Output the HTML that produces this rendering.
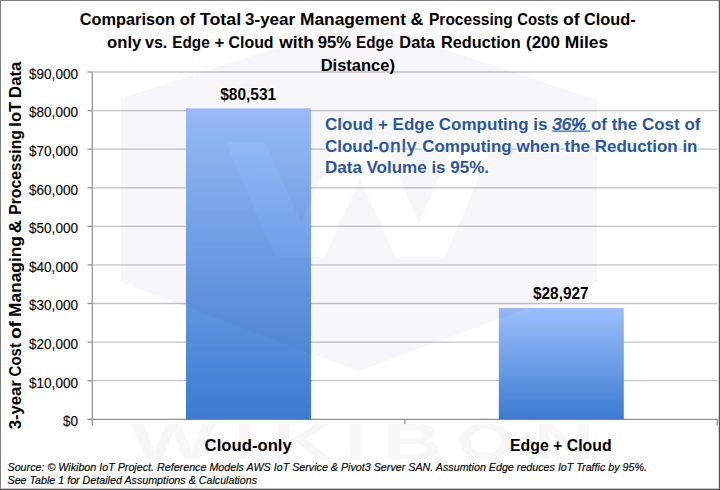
<!DOCTYPE html>
<html><head><meta charset="utf-8">
<style>
html,body{margin:0;padding:0;background:#fff;}
body{width:720px;height:490px;overflow:hidden;position:relative;}
svg{display:block;position:absolute;left:0;top:0;}
text{font-family:"Liberation Sans",sans-serif;}
</style></head>
<body>
<svg width="720" height="490" viewBox="0 0 720 490">
<defs>
<linearGradient id="g1" x1="0" y1="0" x2="0" y2="1">
<stop offset="0" stop-color="#9cbffb"/>
<stop offset="1" stop-color="#3c7bd1"/>
</linearGradient>
</defs>
<rect x="0" y="0" width="720" height="490" fill="#fff"/>

<!-- gridlines -->
<g stroke="#c4c4c4" stroke-width="1.3" fill="none">
<line x1="92" y1="72" x2="717.5" y2="72"/>
<line x1="92" y1="110.6" x2="717.5" y2="110.6"/>
<line x1="92" y1="149.2" x2="717.5" y2="149.2"/>
<line x1="92" y1="187.8" x2="717.5" y2="187.8"/>
<line x1="92" y1="226.4" x2="717.5" y2="226.4"/>
<line x1="92" y1="264.9" x2="717.5" y2="264.9"/>
<line x1="92" y1="303.5" x2="717.5" y2="303.5"/>
<line x1="92" y1="342.1" x2="717.5" y2="342.1"/>
<line x1="92" y1="380.7" x2="717.5" y2="380.7"/>
</g>
<!-- axes -->
<g stroke="#8e8e8e" stroke-width="1.2" fill="none">
<line x1="92.3" y1="72" x2="92.3" y2="425.5"/>
<line x1="87.5" y1="419.3" x2="717.5" y2="419.3"/>
<line x1="87.5" y1="72" x2="92.3" y2="72"/>
<line x1="87.5" y1="110.6" x2="92.3" y2="110.6"/>
<line x1="87.5" y1="149.2" x2="92.3" y2="149.2"/>
<line x1="87.5" y1="187.8" x2="92.3" y2="187.8"/>
<line x1="87.5" y1="226.4" x2="92.3" y2="226.4"/>
<line x1="87.5" y1="264.9" x2="92.3" y2="264.9"/>
<line x1="87.5" y1="303.5" x2="92.3" y2="303.5"/>
<line x1="87.5" y1="342.1" x2="92.3" y2="342.1"/>
<line x1="87.5" y1="380.7" x2="92.3" y2="380.7"/>
<line x1="404.9" y1="419.3" x2="404.9" y2="425.5"/>
<line x1="717.2" y1="419.3" x2="717.2" y2="425.5"/>
</g>

<!-- bars -->
<rect x="186" y="108.4" width="125" height="310.9" fill="url(#g1)"/>
<rect x="498.8" y="308" width="125" height="111.3" fill="url(#g1)"/>

<!-- watermark -->
<path fill="rgb(60,60,110)" fill-opacity="0.045" fill-rule="evenodd" d="M359,21 L597,100 L597,282.3 L358.5,371.3 L121,282.3 L121,98.5 Z M229,142 L262,142 Q265,142 266.5,145 L301,223 L335.5,145 Q337,142 340,142 L380,142 Q383,142 384.5,145 L419,223 L453.5,145 Q455,142 458,142 L491,142 Q494,142 493,145 L447,252 Q445,257 440,257 L400,257 Q395,257 393,252 L360,178 L327,252 Q325,257 320,257 L280,257 Q275,257 273,252 L227,145 Q226,142 229,142 Z"/>
<g fill="#f7f7f7" font-weight="bold" font-size="50.3">
<text x="130.60" y="459" textLength="85.30" lengthAdjust="spacingAndGlyphs">W</text>
<text x="233.80" y="459" textLength="22.23" lengthAdjust="spacingAndGlyphs">I</text>
<text x="272.60" y="459" textLength="60.00" lengthAdjust="spacingAndGlyphs">K</text>
<text x="344.80" y="459" textLength="22.23" lengthAdjust="spacingAndGlyphs">I</text>
<text x="382.61" y="459" textLength="59.89" lengthAdjust="spacingAndGlyphs">B</text>
<text x="457.03" y="459" textLength="57.78" lengthAdjust="spacingAndGlyphs">O</text>
<text x="533.49" y="459" textLength="61.20" lengthAdjust="spacingAndGlyphs">N</text>
</g>

<!-- title -->
<g font-weight="bold" font-size="17" fill="#000">
<text x="79.65" y="25" textLength="95.35" lengthAdjust="spacingAndGlyphs">Comparison</text>
<text x="179.82" y="25" textLength="15.54" lengthAdjust="spacingAndGlyphs">of</text>
<text x="199.82" y="25" textLength="41.39" lengthAdjust="spacingAndGlyphs">Total</text>
<text x="245.06" y="25" textLength="50.08" lengthAdjust="spacingAndGlyphs">3-year</text>
<text x="299.97" y="25" textLength="105.97" lengthAdjust="spacingAndGlyphs">Management</text>
<text x="410.54" y="25" textLength="12.84" lengthAdjust="spacingAndGlyphs">&amp;</text>
<text x="428.99" y="25" textLength="83.73" lengthAdjust="spacingAndGlyphs">Processing</text>
<text x="517.31" y="25" textLength="41.23" lengthAdjust="spacingAndGlyphs">Costs</text>
<text x="563.14" y="25" textLength="16.42" lengthAdjust="spacingAndGlyphs">of</text>
<text x="583.95" y="25" textLength="51.67" lengthAdjust="spacingAndGlyphs">Cloud-</text>
<text x="107.12" y="47.8" textLength="34.15" lengthAdjust="spacingAndGlyphs">only</text>
<text x="145.00" y="47.8" textLength="22.34" lengthAdjust="spacingAndGlyphs">vs.</text>
<text x="172.31" y="47.8" textLength="37.37" lengthAdjust="spacingAndGlyphs">Edge</text>
<text x="214.52" y="47.8" textLength="9.89" lengthAdjust="spacingAndGlyphs">+</text>
<text x="228.56" y="47.8" textLength="44.98" lengthAdjust="spacingAndGlyphs">Cloud</text>
<text x="279.29" y="47.8" textLength="34.67" lengthAdjust="spacingAndGlyphs">with</text>
<text x="317.80" y="47.8" textLength="33.40" lengthAdjust="spacingAndGlyphs">95%</text>
<text x="356.11" y="47.8" textLength="37.27" lengthAdjust="spacingAndGlyphs">Edge</text>
<text x="399.33" y="47.8" textLength="35.52" lengthAdjust="spacingAndGlyphs">Data</text>
<text x="441.04" y="47.8" textLength="79.55" lengthAdjust="spacingAndGlyphs">Reduction</text>
<text x="526.04" y="47.8" textLength="33.77" lengthAdjust="spacingAndGlyphs">(200</text>
<text x="564.67" y="47.8" textLength="43.46" lengthAdjust="spacingAndGlyphs">Miles</text>
<text x="320.63" y="70.8" textLength="74.37" lengthAdjust="spacingAndGlyphs">Distance)</text>
</g>

<!-- y tick labels -->
<g font-size="14.3" fill="#000" text-anchor="end" stroke="#000" stroke-width="0.1">
<text x="78" y="78.8" textLength="49" lengthAdjust="spacingAndGlyphs">$90,000</text>
<text x="78" y="117.4" textLength="49" lengthAdjust="spacingAndGlyphs">$80,000</text>
<text x="78" y="156.0" textLength="49" lengthAdjust="spacingAndGlyphs">$70,000</text>
<text x="78" y="194.6" textLength="49" lengthAdjust="spacingAndGlyphs">$60,000</text>
<text x="78" y="233.2" textLength="49" lengthAdjust="spacingAndGlyphs">$50,000</text>
<text x="78" y="271.7" textLength="49" lengthAdjust="spacingAndGlyphs">$40,000</text>
<text x="78" y="310.3" textLength="49" lengthAdjust="spacingAndGlyphs">$30,000</text>
<text x="78" y="348.9" textLength="49" lengthAdjust="spacingAndGlyphs">$20,000</text>
<text x="78" y="387.5" textLength="49" lengthAdjust="spacingAndGlyphs">$10,000</text>
<text x="78" y="426.1" textLength="15" lengthAdjust="spacingAndGlyphs">$0</text>
</g>

<!-- y axis title -->
<g font-weight="bold" font-size="16.5" fill="#000">
<text transform="translate(21.4,429.33) rotate(-90)" textLength="49.17" lengthAdjust="spacingAndGlyphs">3-year</text>
<text transform="translate(21.4,376.40) rotate(-90)" textLength="33.32" lengthAdjust="spacingAndGlyphs">Cost</text>
<text transform="translate(21.4,339.07) rotate(-90)" textLength="18.03" lengthAdjust="spacingAndGlyphs">of</text>
<text transform="translate(21.4,317.03) rotate(-90)" textLength="80.97" lengthAdjust="spacingAndGlyphs">Managing</text>
<text transform="translate(21.4,233.14) rotate(-90)" textLength="13.34" lengthAdjust="spacingAndGlyphs">&amp;</text>
<text transform="translate(21.4,214.72) rotate(-90)" textLength="84.55" lengthAdjust="spacingAndGlyphs">Processing</text>
<text transform="translate(21.4,126.67) rotate(-90)" textLength="24.67" lengthAdjust="spacingAndGlyphs">IoT</text>
<text transform="translate(21.4,97.88) rotate(-90)" textLength="36.14" lengthAdjust="spacingAndGlyphs">Data</text>
</g>

<!-- data labels halo -->
<g font-weight="bold" font-size="16" fill="#fff" stroke="#fff" stroke-width="2.6" stroke-opacity="0.75" stroke-linejoin="round" text-anchor="middle">
<text x="248.2" y="99.5" textLength="56" lengthAdjust="spacingAndGlyphs">$80,531</text>
<text x="560.8" y="298.6" textLength="55.5" lengthAdjust="spacingAndGlyphs">$28,927</text>
</g>

<!-- data labels -->
<g font-weight="bold" font-size="16" fill="#000" text-anchor="middle">
<text x="248.2" y="99.5" textLength="56" lengthAdjust="spacingAndGlyphs">$80,531</text>
<text x="560.8" y="298.6" textLength="55.5" lengthAdjust="spacingAndGlyphs">$28,927</text>
</g>

<!-- category labels -->
<g font-weight="bold" font-size="17" fill="#000" text-anchor="middle">
<text x="248.2" y="450.8" textLength="87.2" lengthAdjust="spacingAndGlyphs">Cloud-only</text>
<text x="560.8" y="450.8" textLength="101.5" lengthAdjust="spacingAndGlyphs">Edge + Cloud</text>
</g>

<!-- annotation halo -->
<g font-weight="bold" font-size="16.4" fill="#fff" stroke="#fff" stroke-width="2.6" stroke-opacity="0.75" stroke-linejoin="round">
<text x="325" y="130" textLength="375.5" lengthAdjust="spacingAndGlyphs">Cloud + Edge Computing is <tspan font-style="italic" font-weight="normal">36% </tspan>of the Cost of</text>
<text x="325" y="152.1" textLength="372.5" lengthAdjust="spacingAndGlyphs">Cloud-<tspan font-weight="normal" font-size="17.8" letter-spacing="1.2">only</tspan> Computing when the Reduction in</text>
<text x="325" y="172.6" textLength="164" lengthAdjust="spacingAndGlyphs">Data Volume is 95%.</text>
</g>

<!-- annotation -->
<g font-weight="bold" font-size="16.4" fill="#2855a6">
<text x="325" y="130" textLength="375.5" lengthAdjust="spacingAndGlyphs">Cloud + Edge Computing is <tspan font-style="italic" font-weight="normal" stroke="#2855a6" stroke-width="0.7">36% </tspan>of the Cost of</text>
<text x="325" y="152.1" textLength="372.5" lengthAdjust="spacingAndGlyphs">Cloud-<tspan font-weight="normal" font-size="17.8" stroke="#2855a6" stroke-width="0.6" letter-spacing="1.2">only</tspan> Computing when the Reduction in</text>
<rect x="552.3" y="130.6" width="37.7" height="1.1" fill="#2855a6"/>
<text x="325" y="172.6" textLength="164" lengthAdjust="spacingAndGlyphs">Data Volume is 95%.</text>
</g>

<!-- source -->
<g font-style="italic" font-size="11" fill="#000" stroke="#000" stroke-width="0.15">
<text x="7.5" y="471.3" textLength="639.5" lengthAdjust="spacingAndGlyphs">Source: © Wikibon IoT Project. Reference Models AWS IoT Service &amp; Pivot3 Server SAN. Assumtion Edge reduces IoT Traffic by 95%.</text>
<text x="7.5" y="484" textLength="249.5" lengthAdjust="spacingAndGlyphs">See Table 1 for Detailed Assumptions &amp; Calculations</text>
</g>

<!-- border -->
<rect x="0" y="0" width="720" height="1" fill="#808080"/>
<rect x="0" y="0" width="1" height="490" fill="#808080"/>
<rect x="718" y="1" width="1" height="488" fill="#d4d4d4"/>
<rect x="1" y="488" width="718" height="1" fill="#c8c8c8"/>
<rect x="719" y="0" width="1" height="490" fill="#555"/>
<rect x="0" y="489" width="720" height="1" fill="#555"/>
</svg>
</body></html>
